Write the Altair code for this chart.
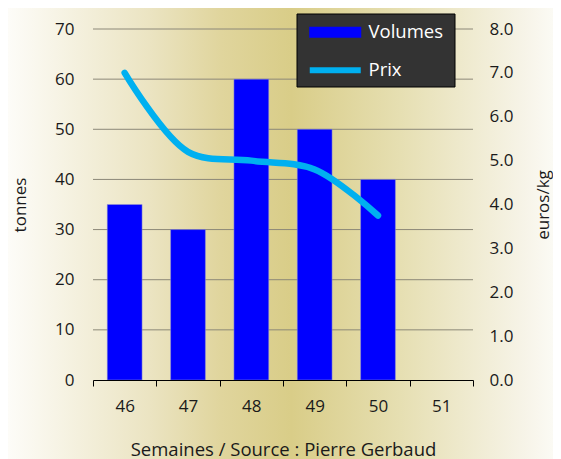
import altair as alt
import pandas as pd

semaines = ["46", "47", "48", "49", "50", "51"]
volumes = [35, 30, 60, 50, 40, None]
prix = [7.0, 5.2, 5.0, 4.8, 3.75, None]
ticks_tonnes = [0, 10, 20, 30, 40, 50, 60, 70]
ticks_prix = [0, 1, 2, 3, 4, 5, 6, 7, 8]

df = pd.DataFrame({"semaine": semaines, "volumes": volumes, "prix": prix})
df_bar = df.dropna(subset=["volumes"]).assign(serie="Volumes")
df_line = df.dropna(subset=["prix"]).assign(serie="Prix")
df_grid = pd.DataFrame({"t": ticks_tonnes[1:]})

FONT = "Open Sans"
W, H = 380, 351

x_enc = alt.X("semaine:N", sort=semaines, scale=alt.Scale(domain=semaines, paddingInner=0, paddingOuter=0),
              axis=alt.Axis(title="Semaines / Source : Pierre Gerbaud", labelAngle=0, domainColor="#000000",
                            tickColor="#000000", tickSize=6, labelPadding=12, titlePadding=26,
                            tickBand="extent", titleFontSize=18.5, zindex=1))

y_left_scale = alt.Scale(domain=[0, 70])
y_left_axis = alt.Axis(title="tonnes", values=ticks_tonnes, grid=False, domain=False, ticks=False,
                       labelPadding=19, titlePadding=25, orient="left", zindex=1)

grad = alt.LinearGradient(gradient="linear", x1=0, x2=1, y1=0, y2=0, stops=[
    alt.GradientStop(offset=0.0, color="#fdfcf8"),
    alt.GradientStop(offset=0.26, color="#ebe4c2"),
    alt.GradientStop(offset=0.39, color="#e0d59d"),
    alt.GradientStop(offset=0.52, color="#d9cd88"),
    alt.GradientStop(offset=0.72, color="#e6dfb2"),
    alt.GradientStop(offset=0.94, color="#f6f3e6"),
    alt.GradientStop(offset=1.0, color="#fbfaf4"),
])

bg = alt.Chart(pd.DataFrame({"a": [0]})).mark_rect(fill=grad).encode(
    x=alt.value(-85), x2=alt.value(W + 80), y=alt.value(-21), y2=alt.value(H + 79)
)

grid = alt.Chart(df_grid).mark_rule(color="#8c8878", strokeWidth=1).encode(
    y=alt.Y("t:Q", scale=y_left_scale, axis=y_left_axis), x=alt.value(0), x2=alt.value(W)
)

legend_box = alt.Chart(pd.DataFrame({"a": [0]})).mark_rect(fill="#333333", stroke="#000000", strokeWidth=1).encode(
    x=alt.value(204), x2=alt.value(362), y=alt.value(-15), y2=alt.value(58)
)

common = dict(title=None, orient="none", padding=0, symbolSize=100, labelColor="#ffffff",
              labelFont=FONT, labelFontSize=18.5, labelOffset=24, legendX=233)

bars = alt.Chart(df_bar).mark_bar(stroke="#9999cc", strokeWidth=0.5, width=alt.RelativeBandSize(0.55)).encode(
    x=x_enc,
    y=alt.Y("volumes:Q", scale=y_left_scale, axis=y_left_axis),
    fill=alt.Fill("serie:N", scale=alt.Scale(domain=["Volumes"], range=["#0000ff"]),
                  legend=alt.Legend(symbolType="M-5.2,-1.1H5.2V1.1H-5.2Z", symbolStrokeWidth=0,
                                    symbolOpacity=1, legendY=-6, **common)),
)

line = alt.Chart(df_line).mark_line(strokeWidth=6.5, interpolate="catmull-rom", strokeCap="round").encode(
    x=x_enc,
    y=alt.Y("prix:Q", scale=alt.Scale(domain=[0, 8]),
            axis=alt.Axis(title="euros/kg", orient="right", values=ticks_prix, format=".1f",
                          grid=False, domain=False, ticks=False, labelPadding=16, titlePadding=40,
                          titleAngle=270, zindex=1)),
    stroke=alt.Stroke("serie:N", scale=alt.Scale(domain=["Prix"], range=["#00b0f0"]),
                      legend=alt.Legend(symbolType="M-5.1,0H5.1", symbolStrokeWidth=6, symbolOpacity=1,
                                        legendY=32, **common)),
)

left = alt.layer(bg, grid, bars)
chart = alt.layer(left, line, legend_box).resolve_scale(y="independent").properties(
    width=W, height=H,
    autosize=alt.AutoSizeParams(type="none"),
    padding={"left": 85, "top": 21, "right": 80, "bottom": 79},
    background="#ffffff",
).configure_view(stroke=None).configure_axis(
    labelFont=FONT, titleFont=FONT, labelFontSize=17, titleFontSize=17, labelColor="#1a1a1a",
    titleColor="#1a1a1a", titleFontWeight="normal",
)

chart.save("out.html", embed_options={"renderer": "svg", "actions": False})
